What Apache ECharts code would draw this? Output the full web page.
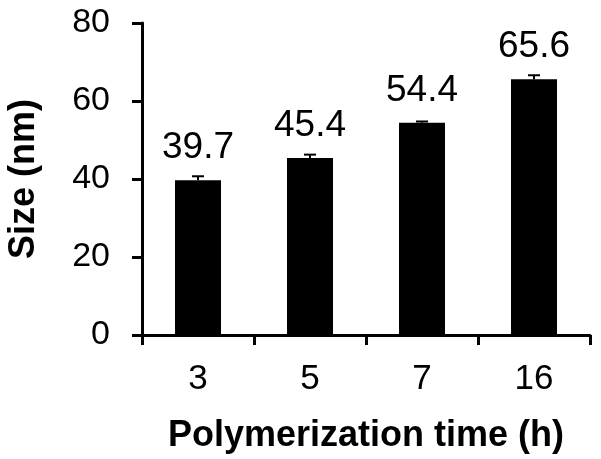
<!DOCTYPE html>
<html>
<head>
<meta charset="utf-8">
<script src="https://cdn.jsdelivr.net/npm/echarts@6/dist/echarts.min.js"></script>
<style>
  html, body { margin: 0; padding: 0; background: #fff; }
  #main { width: 601px; height: 459px; }
</style>
</head>
<body>
<div id="main"></div>
<script>
// polymerization time (h)
const categories = ['3', '5', '7', '16'];
// mean particle size (nm)
const sizes = [39.7, 45.4, 54.4, 65.6];
// error bar half-height (nm)
const sizeErr = [1.0, 0.85, 0.35, 1.0];
const yTicks = { min: 0, max: 80, interval: 20 };

const font = '"Liberation Sans", Arial, Helvetica, sans-serif';

const chart = echarts.init(document.getElementById('main'));

// only the upper whisker shows, the bar hides the lower half
function renderErr(params, api) {
  const i = api.value(0);
  const top = api.coord([i, api.value(1) + api.value(2)]);
  const base = api.coord([i, api.value(1)]);
  const half = 6;
  const style = { stroke: '#000', lineWidth: 2 };
  return {
    type: 'group',
    children: [
      { type: 'line', shape: { x1: base[0], y1: base[1], x2: top[0], y2: top[1] }, style: style },
      { type: 'line', shape: { x1: top[0] - half, y1: top[1], x2: top[0] + half, y2: top[1] }, style: style }
    ]
  };
}

const option = {
  animation: false,
  grid: { left: 142, right: 11, top: 23, bottom: 124, containLabel: false, outerBoundsMode: 'none' },
  xAxis: {
    type: 'category',
    data: categories,
    boundaryGap: true,
    name: 'Polymerization time (h)',
    nameLocation: 'middle',
    nameGap: 83,
    nameTextStyle: { fontFamily: font, fontSize: 36, fontWeight: 'bold', color: '#000' },
    axisLine: { lineStyle: { color: '#000', width: 3 } },
    axisTick: { show: true, inside: false, length: 10, lineStyle: { color: '#000', width: 3 } },
    axisLabel: { fontFamily: font, fontSize: 35, color: '#000', margin: 27 },
    splitLine: { show: false }
  },
  yAxis: {
    type: 'value',
    min: yTicks.min,
    max: yTicks.max,
    interval: yTicks.interval,
    name: 'Size (nm)',
    nameLocation: 'middle',
    nameGap: 100,
    nameRotate: 90,
    nameTextStyle: { fontFamily: font, fontSize: 36, fontWeight: 'bold', color: '#000' },
    axisLine: { show: true, lineStyle: { color: '#000', width: 3 } },
    axisTick: { show: true, inside: false, length: 10, lineStyle: { color: '#000', width: 3 } },
    axisLabel: { fontFamily: font, fontSize: 34, color: '#000', margin: 32 },
    splitLine: { show: false }
  },
  series: [
    {
      type: 'bar',
      data: sizes,
      barWidth: 46,
      itemStyle: { color: '#000' },
      label: {
        show: true,
        position: 'top',
        distance: 14,
        fontFamily: font,
        fontSize: 37,
        color: '#000',
        formatter: (p) => p.value.toFixed(1)
      },
      z: 2
    },
    {
      type: 'custom',
      renderItem: renderErr,
      data: sizes.map((v, i) => [i, v, sizeErr[i]]),
      encode: { x: 0, y: 1 },
      z: 3
    }
  ]
};

chart.setOption(option);
</script>
</body>
</html>
